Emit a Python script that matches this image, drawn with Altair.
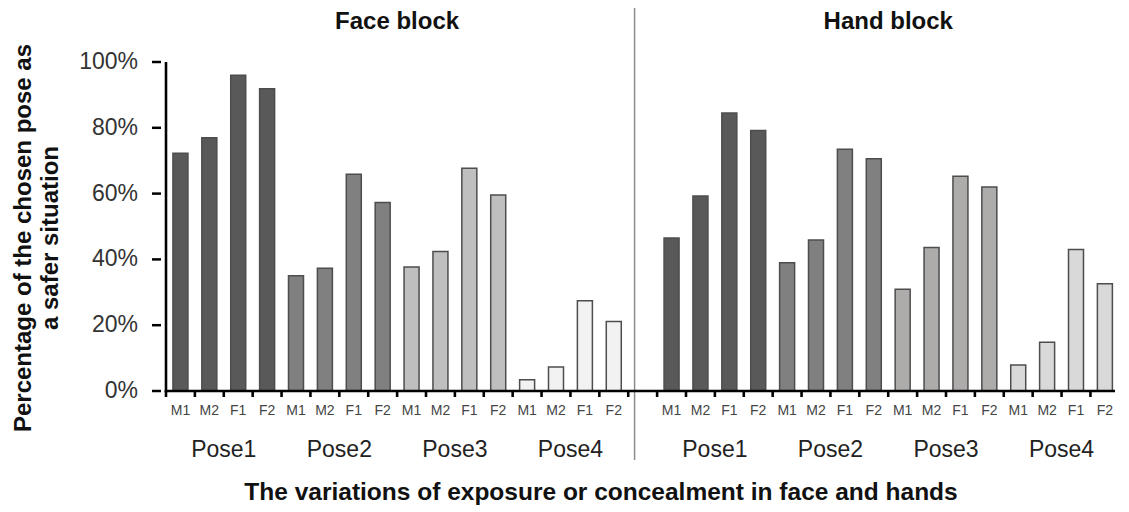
import altair as alt
import pandas as pd

blocks = ["Face block", "Hand block"]
poses = ["Pose1", "Pose2", "Pose3", "Pose4"]
variants = ["M1", "M2", "F1", "F2"]

# percentage choosing each pose as safer (rows = poses, cols = variants)
face_values = [
    [72.3, 77.0, 96.0, 91.9],
    [35.0, 37.3, 65.9, 57.3],
    [37.7, 42.4, 67.7, 59.6],
    [3.4, 7.3, 27.4, 21.1],
]
hand_values = [
    [46.5, 59.3, 84.5, 79.2],
    [39.0, 45.9, 73.5, 70.6],
    [30.9, 43.6, 65.3, 62.0],
    [7.9, 14.8, 43.0, 32.6],
]

face_colors = ["#595959", "#808080", "#bfbfbf", "#f2f2f2"]
hand_colors = ["#595959", "#808080", "#aeabab", "#d9d9d9"]

y_ticks = [0.0, 0.2, 0.4, 0.6, 0.8, 1.0]
y_tick_labels = ["0%", "20%", "40%", "60%", "80%", "100%"]
y_title = ["Percentage of the chosen pose as", "a safer situation"]
x_title = "The variations of exposure or concealment in face and hands"

FONT = "Liberation Sans"
W, H = 959, 329
n_per_block = len(poses) * len(variants)
block_start = [0, n_per_block + 1]  # one empty slot between the blocks
n_slots = 2 * n_per_block + 1
x_max = n_slots - 0.15

# half line thickness expressed in scale units (about 1.3 px)
hx = 1.3 * x_max / W
hy = 1.3 / H

rows = []
for b, vals in enumerate([face_values, hand_values]):
    for p, pose in enumerate(poses):
        for v, var in enumerate(variants):
            slot = block_start[b] + p * len(variants) + v
            rows.append({
                "x": float(slot) + 0.5,
                "value": vals[p][v] / 100.0,
                "variant": var,
                "key": f"{blocks[b]}-{pose}",
            })
bars_df = pd.DataFrame(rows)

color_domain = [f"{blocks[0]}-{p}" for p in poses] + [f"{blocks[1]}-{p}" for p in poses]
color_range = face_colors + hand_colors

pose_rows = []
for b in range(2):
    for p, pose in enumerate(poses):
        pose_rows.append({"x": float(block_start[b] + p * len(variants)) + len(variants) / 2, "pose": pose})
pose_df = pd.DataFrame(pose_rows)

block_df = pd.DataFrame({
    "x": [float(block_start[b]) + n_per_block / 2 for b in range(2)],
    "block": blocks,
})
divider_df = pd.DataFrame({"x": [n_per_block + 0.22]})
xtitle_df = pd.DataFrame({"t": [x_title]})
ytitle_df = pd.DataFrame({"t": ["\n".join(y_title)]})
tick_pos = [float(i) for i in range(n_slots + 1) if i <= x_max]
xtick_df = pd.DataFrame({
    "x": [t - hx for t in tick_pos],
    "x2": [t + hx for t in tick_pos],
    "y": [-6.0 / H] * len(tick_pos),
    "y2": [0.0] * len(tick_pos),
})
ytick_df = pd.DataFrame({"y": y_ticks, "label": y_tick_labels})
xaxis_df = pd.DataFrame({"x": [-hx], "x2": [x_max], "y": [-hy], "y2": [hy]})
yaxis_df = pd.DataFrame({"x": [-hx], "x2": [hx], "y": [-hy], "y2": [1.0]})

x_scale = alt.Scale(domain=[0, x_max], nice=False, zero=False)
y_scale = alt.Scale(domain=[0, 1], nice=False)

bars = alt.Chart(bars_df).mark_bar(size=15, stroke="#4d4d4d", strokeWidth=1.5).encode(
    x=alt.X("x:Q", scale=x_scale, axis=None),
    y=alt.Y("value:Q", scale=y_scale, axis=None),
    y2=alt.datum(0),
    color=alt.Color("key:N", scale=alt.Scale(domain=color_domain, range=color_range), legend=None),
)


def line_bars(df):
    return alt.Chart(df).mark_bar(color="#000", strokeWidth=0).encode(
        x=alt.X("x:Q", scale=x_scale, axis=None), x2="x2:Q",
        y=alt.Y("y:Q", scale=y_scale, axis=None), y2="y2:Q",
    )


x_axis_line = line_bars(xaxis_df)
y_axis_line = line_bars(yaxis_df)
x_ticks = line_bars(xtick_df)

y_tick_marks = alt.Chart(ytick_df).mark_rule(color="#000", strokeWidth=2.5).encode(
    y=alt.Y("y:Q", scale=y_scale, axis=None),
    x=alt.value(-9), x2=alt.value(0),
)
y_tick_text = alt.Chart(ytick_df).mark_text(font=FONT, fontSize=23, color="#333", align="right",
                                            baseline="middle").encode(
    y=alt.Y("y:Q", scale=y_scale, axis=None),
    x=alt.value(-23),
    text="label:N",
)

slot_labels = alt.Chart(bars_df).mark_text(font=FONT, fontSize=14, color="#444", baseline="middle").encode(
    x=alt.X("x:Q", scale=x_scale, axis=None),
    y=alt.value(349),
    text="variant:N",
)

pose_labels = alt.Chart(pose_df).mark_text(font=FONT, fontSize=23, color="#222", baseline="middle").encode(
    x=alt.X("x:Q", scale=x_scale, axis=None),
    y=alt.value(388),
    text="pose:N",
)

block_titles = alt.Chart(block_df).mark_text(font=FONT, fontSize=24, fontWeight="bold", color="#111", baseline="middle").encode(
    x=alt.X("x:Q", scale=x_scale, axis=None),
    y=alt.value(-40),
    text="block:N",
)

divider = alt.Chart(divider_df).mark_rule(color="#8c8c8c", strokeWidth=1.5).encode(
    x=alt.X("x:Q", scale=x_scale, axis=None),
    y=alt.value(-54),
    y2=alt.value(398),
)

xtitle = alt.Chart(xtitle_df).mark_text(font=FONT, fontSize=24.5, fontWeight="bold", color="#111", baseline="middle").encode(
    x=alt.value(440),
    y=alt.value(431),
    text="t:N",
)

ytitle = alt.Chart(ytitle_df).mark_text(font=FONT, fontSize=24, fontWeight="bold", color="#111",
                                         baseline="middle", angle=270, lineBreak="\n", lineHeight=27).encode(
    x=alt.value(-137),
    y=alt.value(176),
    text="t:N",
)

chart = alt.layer(
    divider, bars, x_axis_line, y_axis_line, x_ticks, y_tick_marks, y_tick_text,
    slot_labels, pose_labels, block_titles, xtitle, ytitle,
).properties(
    width=W,
    height=H,
    autosize=alt.AutoSizeParams(type="none"),
    padding={"left": 153, "top": 54, "right": 0, "bottom": 117},
    background="white",
).configure_view(strokeWidth=0)

chart.save("out.html", embed_options={"renderer": "svg", "actions": False})
